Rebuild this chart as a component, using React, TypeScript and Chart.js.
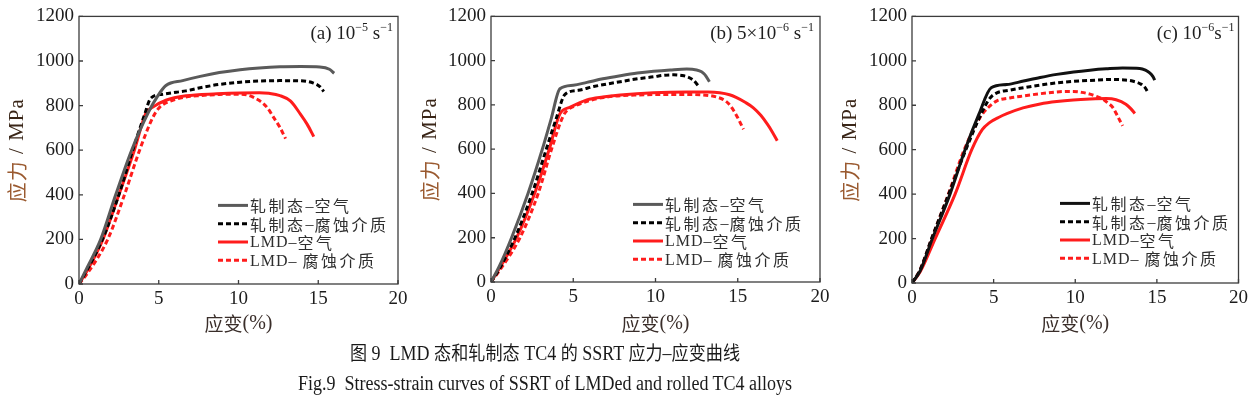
import React, { useEffect, useRef } from 'react';
import { Chart, registerables } from 'chart.js';

Chart.register(...registerables);

type Pt = [number, number];

// ---------------- data ----------------
const strainTicks = [0, 5, 10, 15, 20];
const stressTicks = [0, 200, 400, 600, 800, 1000, 1200];
const seriesLabels = ['轧制态–空气', '轧制态–腐蚀介质', 'LMD–空气', 'LMD– 腐蚀介质'];
const xTitle = '应变(%)';
const yTitleMain = '应力';
const yTitleUnit = ' / MPa';
const captionZh = '图 9  LMD 态和轧制态 TC4 的 SSRT 应力–应变曲线';
const captionEn = 'Fig.9  Stress-strain curves of SSRT of LMDed and rolled TC4 alloys';

// rate annotations: [text, superscript?]
const rateA: [string, boolean][] = [['(a) 10', false], ['−5', true], [' s', false], ['−1', true]];
const rateB: [string, boolean][] = [['(b) 5×10', false], ['−6', true], [' s', false], ['−1', true]];
const rateC: [string, boolean][] = [['(c) 10', false], ['−6', true], ['s', false], ['−1', true]];

// panel (a) 10^-5 s^-1
const aRolledAir: Pt[] = [[0, 0], [0.5, 72], [1.36, 200], [2.3, 400], [3.3, 600], [4.35, 770], [4.95, 845], [5.45, 890], [6.5, 912], [7.6, 931], [8.8, 948], [10.1, 961], [11.3, 969], [12.6, 974], [13.9, 975], [15.1, 973], [15.7, 963], [16.0, 945]];
const aRolledCorr: Pt[] = [[0, 0], [0.5, 62], [1.47, 200], [2.5, 400], [3.37, 600], [4.1, 757], [4.5, 833], [5.25, 851], [6.1, 860], [6.7, 866], [7.6, 880], [8.8, 895], [10.1, 905], [11.3, 910], [12.6, 912], [13.9, 911], [14.7, 901], [15.1, 885], [15.35, 863]];
const aLmdAir: Pt[] = [[0, 0], [0.5, 58], [1.5, 200], [2.5, 400], [3.47, 600], [4.2, 767], [4.6, 792], [5.45, 824], [6.7, 844], [8.65, 853], [10.1, 857], [11.3, 858], [11.9, 855], [12.6, 845], [13.25, 821], [13.88, 762], [14.3, 717], [14.72, 661]];
const aLmdCorr: Pt[] = [[0, 0], [0.5, 45], [1.8, 200], [2.85, 400], [3.8, 600], [4.63, 747], [5.05, 792], [6.1, 829], [6.7, 839], [7.6, 845], [8.8, 850], [10.1, 851], [10.6, 847], [11.0, 835], [11.4, 818], [11.8, 791], [12.2, 747], [12.6, 702], [12.95, 652]];

// panel (b) 5x10^-6 s^-1
const bRolledAir: Pt[] = [[0, 0], [0.5, 70], [1.25, 200], [2.25, 400], [3.12, 600], [3.65, 735], [4.19, 873], [5.0, 889], [5.83, 902], [6.8, 918], [7.86, 932], [8.9, 944], [9.88, 952], [10.9, 958], [11.9, 962], [12.5, 958], [12.8, 950], [13.0, 937], [13.28, 905]];
const bRolledCorr: Pt[] = [[0, 0], [0.5, 58], [1.46, 200], [2.5, 400], [3.36, 600], [3.95, 735], [4.5, 848], [5.3, 866], [6.24, 883], [7.86, 905], [8.9, 918], [9.88, 927], [10.5, 934], [11.1, 936], [11.6, 933], [11.9, 928], [12.3, 912], [12.6, 887]];
const bLmdAir: Pt[] = [[0, 0], [0.5, 60], [1.56, 200], [2.65, 400], [3.54, 600], [4.19, 760], [4.82, 790], [5.83, 823], [6.8, 836], [7.86, 845], [9.88, 855], [11.9, 858], [13.2, 858], [13.9, 855], [14.5, 846], [14.9, 834], [15.45, 812], [15.95, 787], [16.4, 753], [16.8, 713], [17.1, 678], [17.4, 638]];
const bLmdCorr: Pt[] = [[0, 0], [0.5, 50], [1.76, 200], [2.87, 400], [3.68, 600], [4.4, 752], [4.7, 780], [5.0, 792], [6.0, 820], [6.84, 834], [8.87, 845], [10.9, 847], [11.9, 847], [13.3, 842], [13.7, 836], [14.1, 825], [14.45, 805], [14.75, 775], [15.05, 735], [15.35, 690]];

// panel (c) 10^-6 s^-1
const cRolledAir: Pt[] = [[0, 0], [0.5, 55], [1.25, 200], [2.33, 400], [3.25, 600], [4.1, 760], [4.85, 879], [5.8, 893], [6.83, 909], [7.85, 925], [8.87, 939], [9.9, 950], [10.9, 958], [11.9, 964], [12.9, 968], [13.95, 966], [14.3, 958], [14.56, 946], [14.75, 930], [14.87, 913]];
const cRolledCorr: Pt[] = [[0, 0], [0.5, 60], [1.2, 200], [2.25, 400], [3.3, 600], [4.2, 755], [4.75, 830], [5.2, 856], [6.0, 868], [6.83, 879], [7.85, 891], [8.87, 901], [9.9, 908], [10.9, 912], [12.3, 916], [13.0, 914], [13.5, 909], [14.05, 894], [14.3, 877], [14.46, 856]];
const cLmdAir: Pt[] = [[0, 0], [0.5, 50], [1.42, 200], [2.64, 400], [3.66, 600], [4.3, 690], [4.75, 722], [5.3, 745], [5.81, 762], [6.8, 788], [7.85, 806], [8.87, 817], [9.88, 824], [10.9, 828], [11.9, 830], [12.5, 825], [13.1, 805], [13.4, 785], [13.65, 763]];
const cLmdCorr: Pt[] = [[0, 0], [0.5, 60], [1.21, 200], [2.23, 400], [3.2, 600], [4.17, 745], [4.67, 790], [5.2, 820], [6.0, 833], [6.83, 842], [7.85, 852], [8.87, 860], [9.4, 862], [9.88, 862], [10.4, 858], [10.9, 850], [11.3, 840], [11.7, 827], [12.0, 810], [12.3, 790], [12.6, 750], [12.9, 707]];

// ---------------- layout / style ----------------
const LATIN = '"Liberation Serif"';
const CJK = '"Noto Sans CJK SC"';
const RED = '#ff1c1c';

type PanelCfg = {
  key: string;
  left: number; w: number; h: number;
  yAxisW: number; xAxisH: number; padTop: number; padRight: number;
  yTitleX: number;
  legendX: number; legendTop: number;
  rate: [string, boolean][]; rateRight: number;
  solidColor: string;
  series: Pt[][];
};

const panels: PanelCfg[] = [
  { key: 'a', left: 0, w: 415, h: 340, yAxisW: 79, xAxisH: 56, padTop: 15, padRight: 17, yTitleX: 17, legendX: 139, legendTop: 189, rate: rateA, rateRight: 5, solidColor: '#5a5a5a', series: [aRolledAir, aRolledCorr, aLmdAir, aLmdCorr] },
  { key: 'b', left: 415, w: 420, h: 340, yAxisW: 76, xAxisH: 58, padTop: 16, padRight: 15, yTitleX: 15, legendX: 142, legendTop: 188, rate: rateB, rateRight: 6, solidColor: '#5a5a5a', series: [bRolledAir, bRolledCorr, bLmdAir, bLmdCorr] },
  { key: 'c', left: 835, w: 417, h: 340, yAxisW: 77, xAxisH: 57, padTop: 15, padRight: 13, yTitleX: 15, legendX: 148, legendTop: 187, rate: rateC, rateRight: 4, solidColor: '#111111', series: [cRolledAir, cRolledCorr, cLmdAir, cLmdCorr] },
];

const CJK_RE = /([\u2E80-\u9FFF\uFF00-\uFFEF]+)/;
function splitRuns(text: string): { t: string; cjk: boolean }[] {
  return text.split(CJK_RE).filter((s) => s.length > 0).map((s) => ({ t: s, cjk: CJK_RE.test(s) }));
}

type RunStyle = { latinSize: number; cjkSize: number; latinSp: number; cjkSp: number };

// draw mixed CJK / Latin text starting at x (left aligned), returns width
function drawMixed(ctx: CanvasRenderingContext2D, text: string, x: number, y: number, st: RunStyle, color: string, measureOnly = false): number {
  let cx = x;
  splitRuns(text).forEach((r) => {
    ctx.font = `${r.cjk ? st.cjkSize : st.latinSize}px ${r.cjk ? CJK : LATIN}`;
    (ctx as any).letterSpacing = (r.cjk ? st.cjkSp : st.latinSp) + 'px';
    if (!measureOnly) {
      ctx.fillStyle = color;
      ctx.fillText(r.t, cx, y);
    }
    cx += ctx.measureText(r.t).width;
  });
  (ctx as any).letterSpacing = '0px';
  return cx - x;
}

const titleStyle: RunStyle = { latinSize: 20, cjkSize: 19, latinSp: 0, cjkSp: 0 };
const yTitleStyle: RunStyle = { latinSize: 21, cjkSize: 20, latinSp: 1, cjkSp: 1 };
const legendStyle: RunStyle = { latinSize: 16, cjkSize: 16, latinSp: 1, cjkSp: 2.5 };

const decorPlugin = {
  id: 'decor',
  afterDatasetsDraw(chart: any, _args: any, opts: any) {
    const { ctx, chartArea: a, scales } = chart;
    ctx.save();
    // frame
    ctx.setLineDash([]);
    ctx.strokeStyle = '#3c3c3c';
    ctx.lineWidth = 1.3;
    ctx.strokeRect(a.left, a.top, a.right - a.left, a.bottom - a.top);
    // inner tick marks
    ctx.beginPath();
    scales.x.ticks.forEach((t: any) => {
      const px = scales.x.getPixelForValue(t.value);
      ctx.moveTo(px, a.bottom);
      ctx.lineTo(px, a.bottom - 4);
    });
    scales.y.ticks.forEach((t: any) => {
      const py = scales.y.getPixelForValue(t.value);
      ctx.moveTo(a.left, py);
      ctx.lineTo(a.left + 4, py);
    });
    ctx.stroke();

    ctx.textBaseline = 'middle';
    ctx.textAlign = 'left';

    // x title
    const xw = drawMixed(ctx, xTitle, 0, 0, titleStyle, '', true);
    drawMixed(ctx, xTitle, (a.left + a.right) / 2 - xw / 2, 324, titleStyle, '#3a2e2a');

    // y title (rotated)
    ctx.save();
    ctx.translate(opts.yTitleX, (a.top + a.bottom) / 2);
    ctx.rotate(-Math.PI / 2);
    const w1 = drawMixed(ctx, yTitleMain, 0, 0, yTitleStyle, '', true);
    const w2 = drawMixed(ctx, yTitleUnit, 0, 0, yTitleStyle, '', true);
    const sx = -(w1 + w2) / 2;
    drawMixed(ctx, yTitleMain, sx, 0, yTitleStyle, '#9a5a30');
    drawMixed(ctx, yTitleUnit, sx + w1, 0, yTitleStyle, '#3a2618');
    ctx.restore();

    // legend
    const lx = a.left + opts.legendX;
    chart.data.datasets.forEach((ds: any, i: number) => {
      const y = a.top + opts.legendTop + i * 18.3;
      ctx.beginPath();
      ctx.strokeStyle = ds.borderColor;
      ctx.lineWidth = 3;
      ctx.setLineDash(ds.borderDash || []);
      ctx.moveTo(lx, y);
      ctx.lineTo(lx + 30, y);
      ctx.stroke();
      ctx.setLineDash([]);
      drawMixed(ctx, ds.label, lx + 32, y + 1, legendStyle, '#2e2e2e');
    });

    // rate annotation (right aligned)
    const segs: [string, boolean][] = opts.rate;
    const big = '19px ' + LATIN;
    const small = '12px ' + LATIN;
    let total = 0;
    segs.forEach(([t, sup]) => {
      ctx.font = sup ? small : big;
      total += ctx.measureText(t).width;
    });
    let x = a.right - opts.rateRight - total;
    const base = a.top + 23;
    ctx.fillStyle = '#1e1e1e';
    ctx.textBaseline = 'alphabetic';
    segs.forEach(([t, sup]) => {
      ctx.font = sup ? small : big;
      ctx.fillText(t, x, sup ? base - 8 : base);
      x += ctx.measureText(t).width;
    });
    ctx.restore();
  },
};

function Panel({ cfg }: { cfg: PanelCfg }) {
  const ref = useRef<HTMLCanvasElement>(null);
  useEffect(() => {
    const styles = [
      { color: cfg.solidColor, dash: [] as number[] },
      { color: '#000000', dash: [5, 3] },
      { color: RED, dash: [] as number[] },
      { color: RED, dash: [5, 3] },
    ];
    const datasets = cfg.series.map((pts, i) => ({
      label: seriesLabels[i],
      data: pts.map(([x, y]) => ({ x, y })),
      borderColor: styles[i].color,
      borderDash: styles[i].dash,
      borderWidth: 3,
      pointRadius: 0,
      fill: false,
      cubicInterpolationMode: 'monotone' as const,
    }));
    const tickFont = { family: LATIN, size: 19 };
    const chart = new Chart(ref.current!, {
      type: 'line',
      data: { datasets },
      plugins: [decorPlugin],
      options: {
        animation: false,
        responsive: false,
        maintainAspectRatio: false,
        layout: { padding: { top: cfg.padTop, right: cfg.padRight, left: 0, bottom: 0 } },
        plugins: {
          legend: { display: false },
          tooltip: { enabled: false },
          decor: { legendX: cfg.legendX, legendTop: cfg.legendTop, rate: cfg.rate, rateRight: cfg.rateRight, yTitleX: cfg.yTitleX },
        } as any,
        scales: {
          x: {
            type: 'linear',
            min: 0,
            max: 20,
            afterBuildTicks: (s: any) => { s.ticks = strainTicks.map((v) => ({ value: v })); },
            afterFit: (s: any) => { s.height = cfg.xAxisH; },
            ticks: { font: tickFont, color: '#1c1c1c', padding: 4, maxRotation: 0, autoSkip: false, callback: (v: any) => String(v) },
            grid: { drawOnChartArea: false, drawTicks: false },
            border: { display: false },
          },
          y: {
            type: 'linear',
            min: 0,
            max: 1200,
            afterBuildTicks: (s: any) => { s.ticks = stressTicks.map((v) => ({ value: v })); },
            afterFit: (s: any) => { s.width = cfg.yAxisW; },
            ticks: { font: tickFont, color: '#1c1c1c', padding: 5, autoSkip: false, callback: (v: any) => String(v) },
            grid: { drawOnChartArea: false, drawTicks: false },
            border: { display: false },
          },
        },
      } as any,
    });
    return () => chart.destroy();
  }, [cfg]);
  return (
    <canvas
      ref={ref}
      width={cfg.w}
      height={cfg.h}
      style={{ position: 'absolute', left: cfg.left, top: 0, width: cfg.w, height: cfg.h }}
    />
  );
}

function MixedText({ text }: { text: string }) {
  return (
    <>
      {splitRuns(text).map((r, i) => (
        <span key={i} style={{ fontFamily: r.cjk ? CJK : LATIN, fontSize: r.cjk ? 19 : 20 }}>{r.t}</span>
      ))}
    </>
  );
}

export default function App() {
  const capStyle: React.CSSProperties = {
    position: 'absolute',
    left: 545,
    whiteSpace: 'pre',
    fontFamily: LATIN,
    fontSize: 20,
    lineHeight: '24px',
    color: '#1a1a1a',
  };
  return (
    <div style={{ position: 'fixed', left: 0, top: 0, width: 1252, height: 399, background: '#ffffff', overflow: 'hidden' }}>
      {panels.map((p) => (
        <Panel key={p.key} cfg={p} />
      ))}
      <div style={{ ...capStyle, top: 352, transform: 'translate(-50%, -50%) scaleX(0.9)' }}>
        <MixedText text={captionZh} />
      </div>
      <div style={{ ...capStyle, top: 383, transform: 'translate(-50%, -50%) scaleX(0.9)' }}>{captionEn}</div>
    </div>
  );
}
